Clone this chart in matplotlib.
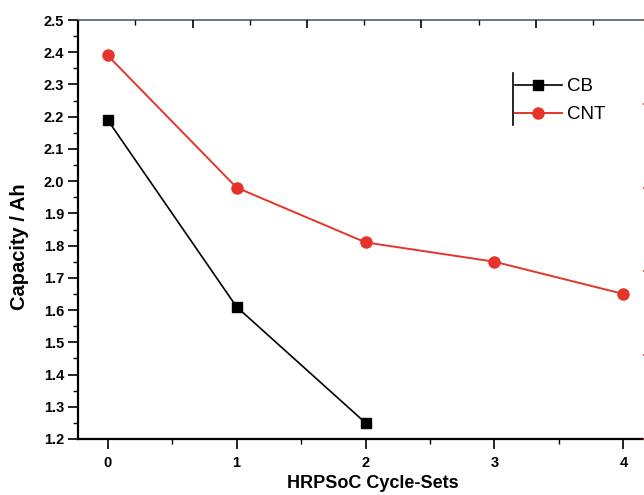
import matplotlib
matplotlib.use("Agg")
import matplotlib.pyplot as plt
from matplotlib.ticker import MultipleLocator
from matplotlib.lines import Line2D

plt.rcParams['font.family'] = ['Liberation Sans', 'DejaVu Sans']

cycles_cb = [0, 1, 2]
cap_cb = [2.19, 1.61, 1.25]
cycles_cnt = [0, 1, 2, 3, 4]
cap_cnt = [2.39, 1.98, 1.81, 1.75, 1.65]
xticks = [0, 1, 2, 3, 4]
yticks = [1.2, 1.3, 1.4, 1.5, 1.6, 1.7, 1.8, 1.9, 2.0, 2.1, 2.2, 2.3, 2.4, 2.5]

RED = '#e5352b'

fig = plt.figure(figsize=(6.44, 4.95), dpi=100)
W, H = 644, 495
ax = fig.add_axes([78/W, 56/H, (650.5-78)/W, (439-20)/H])

def ax_frac(px, py):
    return ((px - 78) / 572.5, (439 - py) / 419)

ax.plot(cycles_cb, cap_cb, color='black', lw=1.2, marker='s', ms=6.5, label='CB', zorder=3)
ax.plot(cycles_cnt, cap_cnt, color=RED, lw=1.4, marker='o', ms=8, label='CNT', zorder=3)

ax.set_xlim(-0.23, 4.21)
ax.set_ylim(1.2, 2.5)
ax.set_xticks(xticks)
ax.set_yticks(yticks)
ax.set_yticklabels([f"{v:.1f}" for v in yticks])
ax.xaxis.set_minor_locator(MultipleLocator(0.5))
ax.yaxis.set_minor_locator(MultipleLocator(0.05))
ax.tick_params(axis='both', which='major', direction='out', length=7, width=1.2, labelsize=10.5)
ax.tick_params(axis='both', which='minor', direction='out', length=3.5, width=1.0)
ax.tick_params(top=False, right=False, which='both')
for lab in ax.get_xticklabels() + ax.get_yticklabels():
    lab.set_fontweight('bold')
ax.tick_params(axis='x', which='major', pad=5.5)
ax.tick_params(axis='y', which='major', pad=3)

ax.spines['left'].set_linewidth(1.6)
ax.spines['bottom'].set_linewidth(1.6)
ax.spines['top'].set_color('#5f7a8a')
ax.spines['top'].set_linewidth(1.4)
ax.spines['right'].set_color(RED)

ax.set_xlabel('HRPSoC Cycle-Sets', fontsize=13, fontweight='bold')
ax.xaxis.set_label_coords(*ax_frac(373, 475))
ax.set_ylabel('Capacity / Ah', fontsize=14.5, fontweight='bold')
ax.yaxis.set_label_coords(*ax_frac(29, 247))

# top secondary axis (ticks only)
axt = ax.twiny()
axt.set_xlim(0, 5)
axt.xaxis.set_major_locator(MultipleLocator(1))
axt.xaxis.set_minor_locator(MultipleLocator(0.5))
axt.tick_params(axis='x', which='major', direction='in', length=6, width=1.2, labeltop=False, top=True)
axt.tick_params(axis='x', which='minor', direction='in', length=3.5, width=1.0, top=True)
axt.tick_params(axis='y', which='both', left=False, right=False, labelleft=False, labelright=False)

# right secondary axis (ticks only)
axr = ax.twinx()
axr.set_ylim(0, 5)
axr.yaxis.set_major_locator(MultipleLocator(1))
axr.yaxis.set_minor_locator(MultipleLocator(0.5))
axr.tick_params(axis='y', which='major', direction='in', length=5, width=1.2, colors=RED, labelright=False)
axr.tick_params(axis='y', which='minor', direction='in', length=3, width=1.0, colors=RED)
for a in (axt, axr):
    for s in a.spines.values():
        s.set_visible(False)

leg = ax.legend(loc='upper left', bbox_to_anchor=ax_frac(515, 78),
                frameon=False, fontsize=13.5, handlelength=2.5, handletextpad=0.3,
                labelspacing=0.58, borderaxespad=0, borderpad=0)
x0, y0 = ax_frac(513, 73)
_, y1 = ax_frac(513, 125)
ax.add_line(Line2D([x0, x0], [y0, y1], transform=ax.transAxes, color='black', lw=1.2, clip_on=False))

fig.savefig('out.png', dpi=100)
